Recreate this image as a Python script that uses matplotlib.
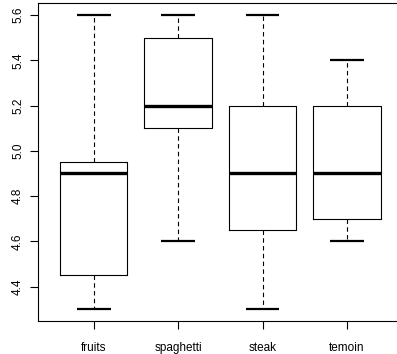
import matplotlib
matplotlib.use("Agg")
import matplotlib.pyplot as plt

# Five-number summaries per group
groups = ["fruits", "spaghetti", "steak", "temoin"]
whislo = [4.3, 4.6, 4.3, 4.6]
q1 = [4.45, 5.1, 4.65, 4.7]
med = [4.9, 5.2, 4.9, 4.9]
q3 = [4.95, 5.5, 5.2, 5.2]
whishi = [5.6, 5.6, 5.6, 5.4]
yticks = [4.4, 4.6, 4.8, 5.0, 5.2, 5.4, 5.6]

plt.rcParams["font.family"] = ["Liberation Sans", "DejaVu Sans"]

stats = [
    dict(label=g, whislo=lo, q1=a, med=m, q3=b, whishi=hi, fliers=[])
    for g, lo, a, m, b, hi in zip(groups, whislo, q1, med, q3, whishi)
]

fig = plt.figure(figsize=(3.97, 3.54), dpi=100)
# frame runs slightly past the right edge of the canvas
ax = fig.add_axes([38 / 397, 1 - 321 / 354, (402.7 - 38) / 397, (321 - 3.3) / 354])

lw = 0.8
ax.bxp(stats, positions=range(1, len(groups) + 1), widths=0.8,
       boxprops=dict(color="black", linewidth=lw),
       medianprops=dict(color="black", linewidth=2.4, solid_capstyle="butt"),
       whiskerprops=dict(color="black", linewidth=lw, linestyle=(0, (4, 3))),
       capprops=dict(color="black", linewidth=1.6, solid_capstyle="butt"),
       capwidths=0.4, showfliers=False)

ax.set_xlim(0.34, 4.66)
ax.set_ylim(4.248, 5.652)
ax.set_yticks(yticks)
ax.set_yticklabels([f"{v:.1f}" for v in yticks], rotation=90, va="center")
ax.set_xticks(range(1, len(groups) + 1))
ax.set_xticklabels(groups)
ax.tick_params(labelsize=8.5, length=6, width=0.8)
ax.tick_params(axis="x", pad=9)
ax.tick_params(axis="y", pad=4)
for s in ax.spines.values():
    s.set_linewidth(0.8)

fig.savefig("out.png", dpi=100)
